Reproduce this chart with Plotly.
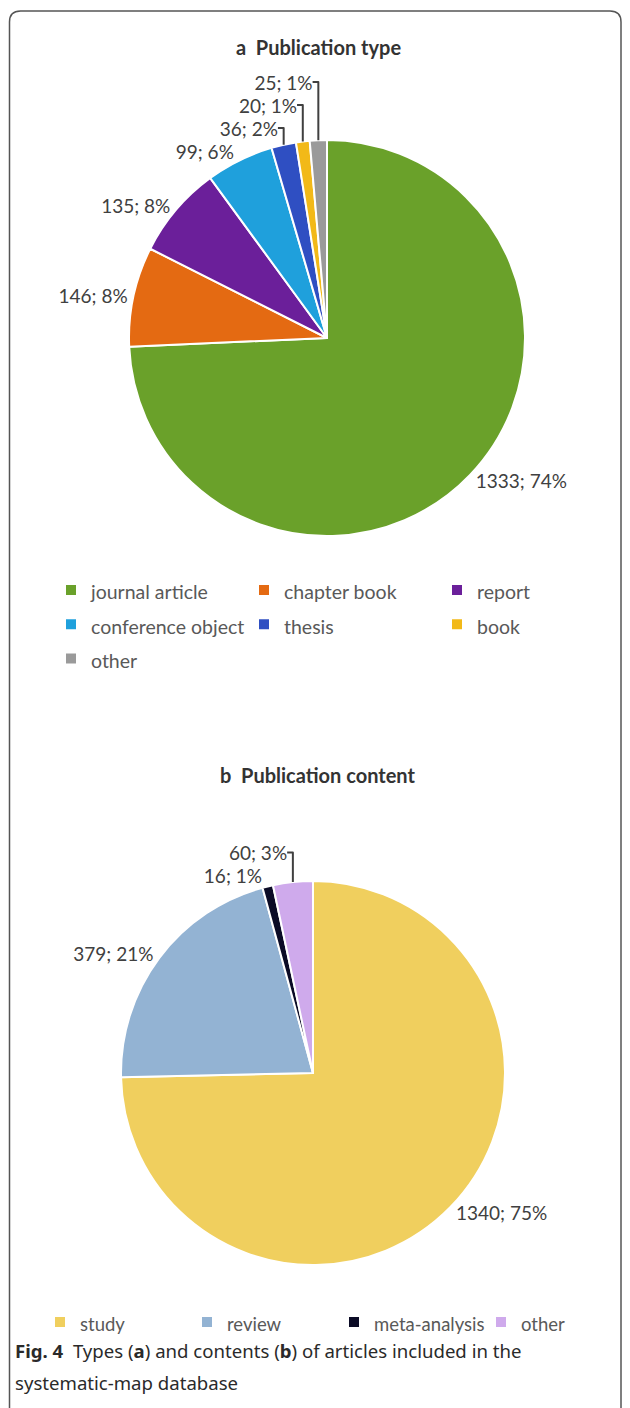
import plotly.graph_objects as go

# ---- data ----
type_labels = ["journal article", "chapter book", "report", "conference object", "thesis", "book", "other"]
type_values = [1333, 146, 135, 99, 36, 20, 25]
type_colors = ["#6aa12a", "#e46a12", "#6b1f9a", "#1fa0dc", "#2f4fc2", "#f2b918", "#9a9a9a"]

# trailing space on "other " keeps it a separate legend entry from panel a's "other"
content_labels = ["study", "review", "meta-analysis", "other "]
content_values = [1340, 379, 16, 60]
content_colors = ["#f0cf5e", "#93b3d3", "#0b0b26", "#cfaaec"]

W, H = 630, 1408
FONT = "Lato"
LEG_ROW = 24     # legend font size used only to set row spacing
LABEL_SIZE = 19


def px_x(x):
    return x / W


def px_y(y):
    return 1 - y / H


def leg_label(s, size):
    return f'<span style="font-size:{size}px">{s}</span>'


fig = go.Figure()

fig.add_trace(go.Pie(
    labels=[leg_label(s, 19.5) for s in type_labels], values=type_values, sort=False,
    direction="clockwise", rotation=0,
    marker=dict(colors=type_colors, line=dict(color="white", width=2)),
    texttemplate="%{value}; %{percent:.0%}", textposition="outside",
    textfont=dict(family=FONT, size=LABEL_SIZE, color="#404040"),
    domain=dict(x=[px_x(129), px_x(525)], y=[px_y(536), px_y(140)]),
    legend="legend", showlegend=True, hovertemplate="%{value}; %{percent:.0%}<extra></extra>",
))

fig.add_trace(go.Pie(
    labels=[leg_label(s, 18.5) for s in content_labels], values=content_values, sort=False,
    direction="clockwise", rotation=0,
    marker=dict(colors=content_colors, line=dict(color="white", width=2)),
    texttemplate="%{value}; %{percent:.0%}", textposition="outside",
    textfont=dict(family=FONT, size=LABEL_SIZE, color="#404040"),
    domain=dict(x=[px_x(121), px_x(505)], y=[px_y(1265), px_y(881)]),
    legend="legend2", showlegend=True, hovertemplate="%{value}; %{percent:.0%}<extra></extra>",
))

# rounded border (top, left and right sides; runs off the bottom)
L, T, R, B, rad = 9.5, 11, 621, 1420, 11
path = (f"M {px_x(L)},{px_y(B)} L {px_x(L)},{px_y(T + rad)} "
        f"Q {px_x(L)},{px_y(T)} {px_x(L + rad)},{px_y(T)} "
        f"L {px_x(R - rad)},{px_y(T)} Q {px_x(R)},{px_y(T)} {px_x(R)},{px_y(T + rad)} "
        f"L {px_x(R)},{px_y(B)}")
fig.add_shape(type="path", path=path, xref="paper", yref="paper",
              line=dict(color="#555555", width=1.5))

annotations = [
    dict(text="<b>a  Publication type</b>", x=px_x(318), y=px_y(47), xanchor="center", yanchor="middle",
         font=dict(family=FONT, size=20, color="#333333")),
    dict(text="<b>b  Publication content</b>", x=px_x(318), y=px_y(775), xanchor="center", yanchor="middle",
         font=dict(family=FONT, size=20, color="#333333")),
    dict(text="<b>Fig. 4</b>  Types (<b>a</b>) and contents (<b>b</b>) of articles included in the",
         x=px_x(13), y=px_y(1350), xanchor="left", yanchor="middle", align="left",
         font=dict(family="Noto Sans", size=18.6, color="#2a2a2a")),
    dict(text="systematic-map database",
         x=px_x(13), y=px_y(1382), xanchor="left", yanchor="middle", align="left",
         font=dict(family="Noto Sans", size=18.6, color="#2a2a2a")),
]
for a in annotations:
    a.update(xref="paper", yref="paper", showarrow=False)

fig.update_layout(
    width=W, height=H,
    margin=dict(l=0, r=0, t=0, b=0),
    paper_bgcolor="white", plot_bgcolor="white",
    annotations=annotations,
    legend=dict(orientation="h", x=px_x(51), y=px_y(568), xanchor="left", yanchor="top",
                entrywidth=148, entrywidthmode="pixels", traceorder="normal",
                font=dict(family=FONT, size=LEG_ROW, color="#595959"), bgcolor="rgba(0,0,0,0)"),
    legend2=dict(orientation="h", x=px_x(40), y=px_y(1300), xanchor="left", yanchor="top",
                 entrywidth=102, entrywidthmode="pixels", traceorder="normal",
                 font=dict(family=FONT, size=LEG_ROW, color="#595959"), bgcolor="rgba(0,0,0,0)"),
)

fig.write_html("out.html", config={"displayModeBar": False},
               post_script="document.body.style.margin='0';")
